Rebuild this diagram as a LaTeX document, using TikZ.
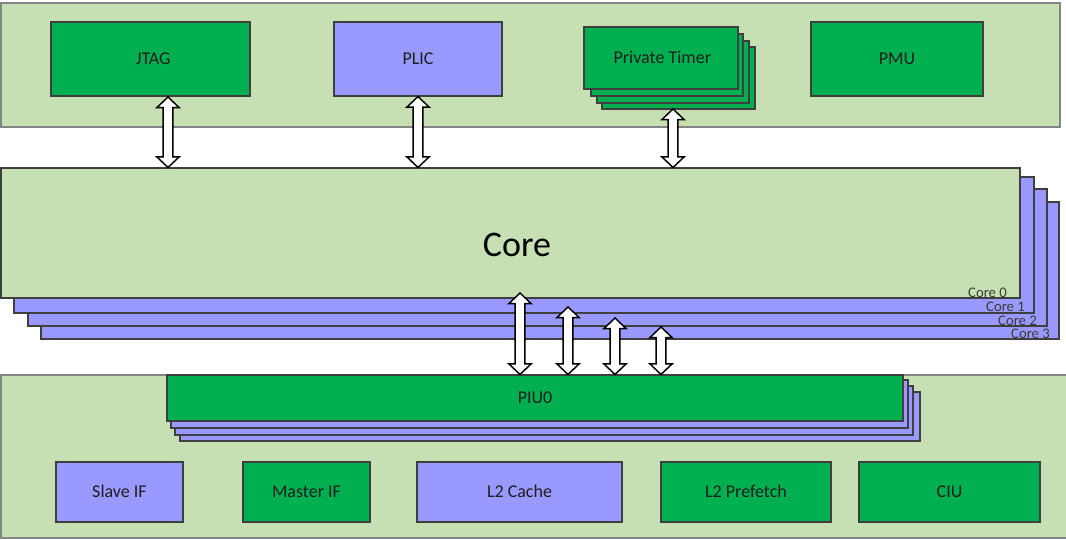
\documentclass[tikz,border=0pt]{standalone}
\usepackage{fontspec}
\setmainfont{Carlito}
\usetikzlibrary{calc,fit}

\definecolor{panelgreen}{HTML}{C6E0B4}
\definecolor{blockgreen}{HTML}{00B050}
\definecolor{lilac}{HTML}{9999FF}
\definecolor{edgegray}{HTML}{858585}
\definecolor{edgedark}{HTML}{3F3F3F}
\definecolor{inkdark}{HTML}{1E1E1E}
\definecolor{corelbl}{HTML}{3C3A34}

\tikzset{
  panel/.style={fill=panelgreen, draw=edgegray, line width=1.1pt, inner sep=0pt},
  gbox/.style={fill=blockgreen, draw=edgedark, line width=0.8pt, inner sep=0pt},
  pbox/.style={fill=lilac, draw=edgedark, line width=0.8pt, inner sep=0pt},
  corebox/.style={fill=panelgreen, draw=edgedark, line width=0.8pt, inner sep=0pt},
  lbl/.style={font=\fontsize{13.5}{16}\selectfont, text=inkdark, inner sep=0pt,
    text height=8.7pt, text depth=0pt},
  bigtext/.style={font=\fontsize{27}{32}\selectfont, text=black},
  smalltext/.style={font=\fontsize{11}{13}\selectfont, text=corelbl, inner sep=0pt},
  fatarrow/.style={fill=white, draw=black, line width=1.1pt, line join=miter},
}

% white block double arrow between a top point and a bottom point
\newcommand\dualarrow[2]{%
  \draw[fatarrow] let \p1=(#1), \p2=(#2) in
    (\x1,\y1) -- (\x1+8.4pt,\y1-8pt) -- (\x1+3.6pt,\y1-8pt)
    -- (\x1+3.6pt,\y2+8pt) -- (\x1+8.4pt,\y2+8pt) -- (\x1,\y2)
    -- (\x1-8.4pt,\y2+8pt) -- (\x1-3.6pt,\y2+8pt)
    -- (\x1-3.6pt,\y1-8pt) -- (\x1-8.4pt,\y1-8pt) -- cycle;}

\begin{document}
\begin{tikzpicture}[x=0.75pt, y=-0.75pt]
\useasboundingbox (0,0) rectangle (1066,539);
\clip (0,0) rectangle (1066,539);

% ---- peripheral panel ----
\node[panel, fit={(1,3) (1060,127)}] (toppanel) {};
\node[gbox, fit={(51,22) (250,96)}] (jtag) {};
\node[pbox, fit={(334,22) (502,96)}] (plic) {};
\node[gbox, fit={(602,47) (755,109)}] (timer3) {};
\node[gbox, fit={(597,41) (749,103)}] (timer2) {};
\node[gbox, fit={(591,34) (743,96)}] (timer1) {};
\node[gbox, fit={(584,27) (738,89)}] (timer0) {};
\node[gbox, fit={(811,22) (983,96)}] (pmu) {};
\node[lbl] (jtagtxt) at ([xshift=2]jtag.center) {JTAG};
\node[lbl] (plictxt) at (plic.center) {PLIC};
\node[lbl] (timertxt) at ([xshift=1]timer0.center) {Private Timer};
\node[lbl] (pmutxt) at (pmu.center) {PMU};

% ---- core stack ----
\node[pbox, fit={(41,202) (1059,339)}] (core3) {};
\node[pbox, fit={(28,189) (1047,326)}] (core2) {};
\node[pbox, fit={(14,177) (1034,313)}] (core1) {};
\node[corebox, fit={(1,168) (1020,298)}] (core0) {};
\node[bigtext] (coretitle) at (517,245) {Core};
\node[smalltext, anchor=base east] (lbl0) at (1007,297) {Core 0};
\node[smalltext, anchor=base east] (lbl1) at (1025,311) {Core 1};
\node[smalltext, anchor=base east] (lbl2) at (1037,325) {Core 2};
\node[smalltext, anchor=base east] (lbl3) at (1050,338) {Core 3};

% ---- uncore panel ----
\node[panel, fit={(1,375) (1075,538)}] (botpanel) {};
\node[pbox, fit={(180,392) (920,441)}] (piu3) {};
\node[pbox, fit={(175,386) (913,435)}] (piu2) {};
\node[pbox, fit={(171,380) (908,428)}] (piu1) {};
\node[gbox, fit={(167,375) (903,421)}] (piu0) {};
\node[lbl] (piutxt) at (piu0.center) {PIU0};

\node[pbox, fit={(56,462) (183,522)}] (slaveif) {};
\node[gbox, fit={(243,462) (370,522)}] (masterif) {};
\node[pbox, fit={(417,462) (622,522)}] (l2cache) {};
\node[gbox, fit={(661,462) (831,522)}] (l2pref) {};
\node[gbox, fit={(859,462) (1040,522)}] (ciu) {};
\node[lbl] (slavetxt) at (slaveif.center) {Slave IF};
\node[lbl] (mastertxt) at (masterif.center) {Master IF};
\node[lbl] (cachetxt) at (l2cache.center) {L2 Cache};
\node[lbl] (preftxt) at (l2pref.center) {L2 Prefetch};
\node[lbl] (ciutxt) at (ciu.center) {CIU};

% ---- connections ----
\coordinate (jtagport) at (168,97);
\coordinate (timerport) at (673,109);
\dualarrow{jtagport}{jtagport |- core0.north}
\dualarrow{plic.south}{plic.south |- core0.north}
\dualarrow{timerport}{timerport |- core0.north}

\coordinate (port0) at (520,293);
\coordinate (port1) at (568,307);
\coordinate (port2) at (615,318);
\coordinate (port3) at (661,327);
\dualarrow{port0}{port0 |- piu0.north}
\dualarrow{port1}{port1 |- piu0.north}
\dualarrow{port2}{port2 |- piu0.north}
\dualarrow{port3}{port3 |- piu0.north}
\end{tikzpicture}
\end{document}
